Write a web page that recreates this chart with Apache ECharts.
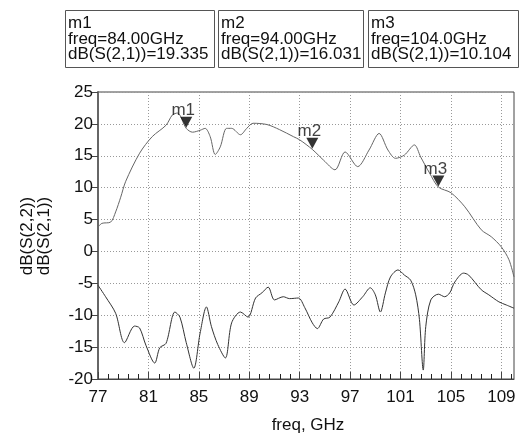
<!DOCTYPE html>
<html><head><meta charset="utf-8">
<script src="https://cdn.jsdelivr.net/npm/echarts@6/dist/echarts.min.js"></script>
<style>html,body{margin:0;padding:0;background:#fff}#c{width:526px;height:437px}</style>
</head><body><div id="c"></div>
<script>
// S(2,1) trace
const s21Freq = [77.0,77.3,78.0,78.4,78.8,79.2,80.3,81.3,82.4,82.9,83.3,84.0,84.5,85.1,85.5,85.9,86.3,86.7,87.2,87.6,88.3,88.8,89.3,90.4,91.4,92.5,93.0,94.0,94.9,95.8,96.6,97.6,98.5,99.3,100.0,100.6,101.3,102.1,102.6,103.3,104.0,105.0,106.1,107.4,108.2,109.0,109.6,110.0];
const s21dB   = [3.8,4.4,4.6,6.2,8.5,11.0,15.4,18.0,19.8,21.4,21.7,19.3,18.7,19.0,19.3,18.0,15.2,16.4,19.3,19.3,18.3,19.3,20.1,19.9,19.1,18.0,17.5,16.0,14.3,12.8,15.6,13.3,15.9,18.5,15.9,14.6,15.1,16.7,14.8,12.3,10.1,9.2,7.0,3.4,2.3,0.7,-1.3,-4.0];
// S(2,2) trace
const s22Freq = [77.0,77.6,78.4,79.1,79.9,80.3,80.8,81.5,81.9,82.4,83.1,83.5,84.0,84.6,85.1,85.6,86.0,86.5,87.1,87.6,88.3,88.9,89.5,90.0,90.5,91.0,91.7,92.2,92.9,93.4,94.0,94.4,94.9,95.4,96.1,96.6,97.3,98.0,98.6,99.0,99.4,99.8,100.2,100.8,101.3,101.8,102.2,102.5,102.8,103.0,103.4,104.0,104.5,104.9,105.3,106.0,106.4,107.4,108.0,108.8,109.4,110.0];
const s22dB   = [-5.3,-7.1,-9.7,-14.3,-11.7,-12.0,-14.7,-17.5,-15.1,-14.4,-9.5,-10.3,-14.3,-18.3,-12.8,-8.7,-11.8,-14.6,-16.7,-11.2,-9.5,-10.3,-7.3,-6.5,-5.6,-7.6,-7.1,-7.4,-7.3,-8.8,-11.2,-12.1,-10.6,-10.3,-7.9,-5.9,-8.4,-7.1,-5.7,-6.8,-9.5,-6.5,-4.0,-2.9,-3.7,-4.5,-6.8,-10.7,-18.6,-11.8,-7.6,-6.7,-7.1,-6.5,-4.8,-3.4,-3.7,-6.0,-6.8,-7.9,-8.4,-8.9];
// markers
const markerNames = ['m1','m2','m3'];
const markerFreq  = [84, 94, 104];
const markerVal   = [19.335, 16.031, 10.104];
const markerFreqText = ['84.00GHz','94.00GHz','104.0GHz'];
const markerValText  = ['19.335','16.031','10.104'];
// axis ticks
const xTickLabels = [77,81,85,89,93,97,101,105,109];
const xMin = 77, xMax = 110, yMin = -20, yMax = 25, yStep = 5;

const minorTicks = [];
for (let i = 0; i * 0.8 + xMin <= xMax + 1e-9; i++) minorTicks.push(+(xMin + i * 0.8).toFixed(2));

const font = 'Arial, "Liberation Sans", sans-serif';
const chart = echarts.init(document.getElementById('c'), null, {renderer:'canvas'});

const boxX = [65, 218, 368], boxW = [149, 145, 150];
const graphics = [];
markerNames.forEach((n, i) => {
  graphics.push({type:'rect', left:boxX[i], top:10, shape:{width:boxW[i], height:57},
    style:{fill:'#fff', stroke:'#555', lineWidth:1}});
  graphics.push({type:'text', left:boxX[i]+3, top:15,
    style:{text: n + '\nfreq=' + markerFreqText[i] + '\ndB(S(2,1))=' + markerValText[i],
      font:'17px ' + font, lineHeight:15.5, fill:'#111'}});
});
graphics.push({type:'text', x:36, y:236, rotation:Math.PI/2,
  style:{text:'dB(S(2,2))\ndB(S(2,1))', font:'17px ' + font, lineHeight:17,
    textAlign:'center', textVerticalAlign:'middle', fill:'#111'}});
graphics.push({type:'text', x:308, y:425,
  style:{text:'freq, GHz', font:'17px ' + font, textAlign:'center', textVerticalAlign:'middle', fill:'#111'}});

const option = {
  animation:false,
  backgroundColor:'#fff',
  grid:{left:98, top:92, right:12, bottom:58, show:true, borderColor:'#444', borderWidth:1, backgroundColor:'transparent'},
  xAxis:{
    type:'value', min:xMin, max:xMax, position:'bottom',
    axisLine:{show:true, onZero:false, lineStyle:{color:'#444', width:1}},
    axisTick:{show:true, inside:true, length:7, customValues:xTickLabels, lineStyle:{color:'#444'}},
    axisLabel:{customValues:xTickLabels, color:'#111', fontSize:17, fontFamily:font, margin:10, showMaxLabel:true},
    splitLine:{show:true, lineStyle:{color:'#999', type:[1,2], width:1}}
  },
  yAxis:{
    type:'value', min:yMin, max:yMax, interval:yStep,
    axisLine:{show:true, onZero:false, lineStyle:{color:'#666', width:2}},
    axisTick:{show:true, inside:false, length:6, lineStyle:{color:'#444'}},
    axisLabel:{color:'#111', fontSize:17, fontFamily:font, margin:5},
    splitLine:{show:true, lineStyle:{color:'#999', type:[1,2], width:1}}
  },
  graphic:{elements:graphics},
  series:[
    {type:'line', name:'dB(S(2,1))', data:s21Freq.map((f,i)=>[f,s21dB[i]]), showSymbol:false, smooth:0.3,
      lineStyle:{color:'#666', width:1}, z:3},
    {type:'line', name:'dB(S(2,2))', data:s22Freq.map((f,i)=>[f,s22dB[i]]), showSymbol:false, smooth:0.3,
      lineStyle:{color:'#333', width:1}, z:3},
    {type:'scatter', data:markerFreq.map((f,i)=>({value:[f,markerVal[i]], name:markerNames[i]})),
      symbol:'triangle', symbolRotate:180, symbolSize:[12,11], symbolOffset:[0,-6],
      itemStyle:{color:'#000'}, z:5,
      label:{show:true, formatter:p=>p.name, position:'top', distance:-2, offset:[-3,0],
        color:'#111', fontSize:17, fontFamily:font}}
  ]
};
chart.setOption(option);

// minor x ticks, positioned through the axis scale
const tickEls = [];
minorTicks.forEach(v => {
  if (xTickLabels.indexOf(v) >= 0) return;
  const p = chart.convertToPixel({gridIndex:0}, [v, yMin]);
  if (!p) return;
  const x = Math.round(p[0]) + 0.5;
  tickEls.push({type:'line', silent:true, z:100, zlevel:0,
    shape:{x1:x, y1:p[1], x2:x, y2:p[1] - 5}, style:{stroke:'#222', lineWidth:1}});
});
option.graphic = {elements: graphics.concat(tickEls)};
chart.setOption(option, true);
</script></body></html>
